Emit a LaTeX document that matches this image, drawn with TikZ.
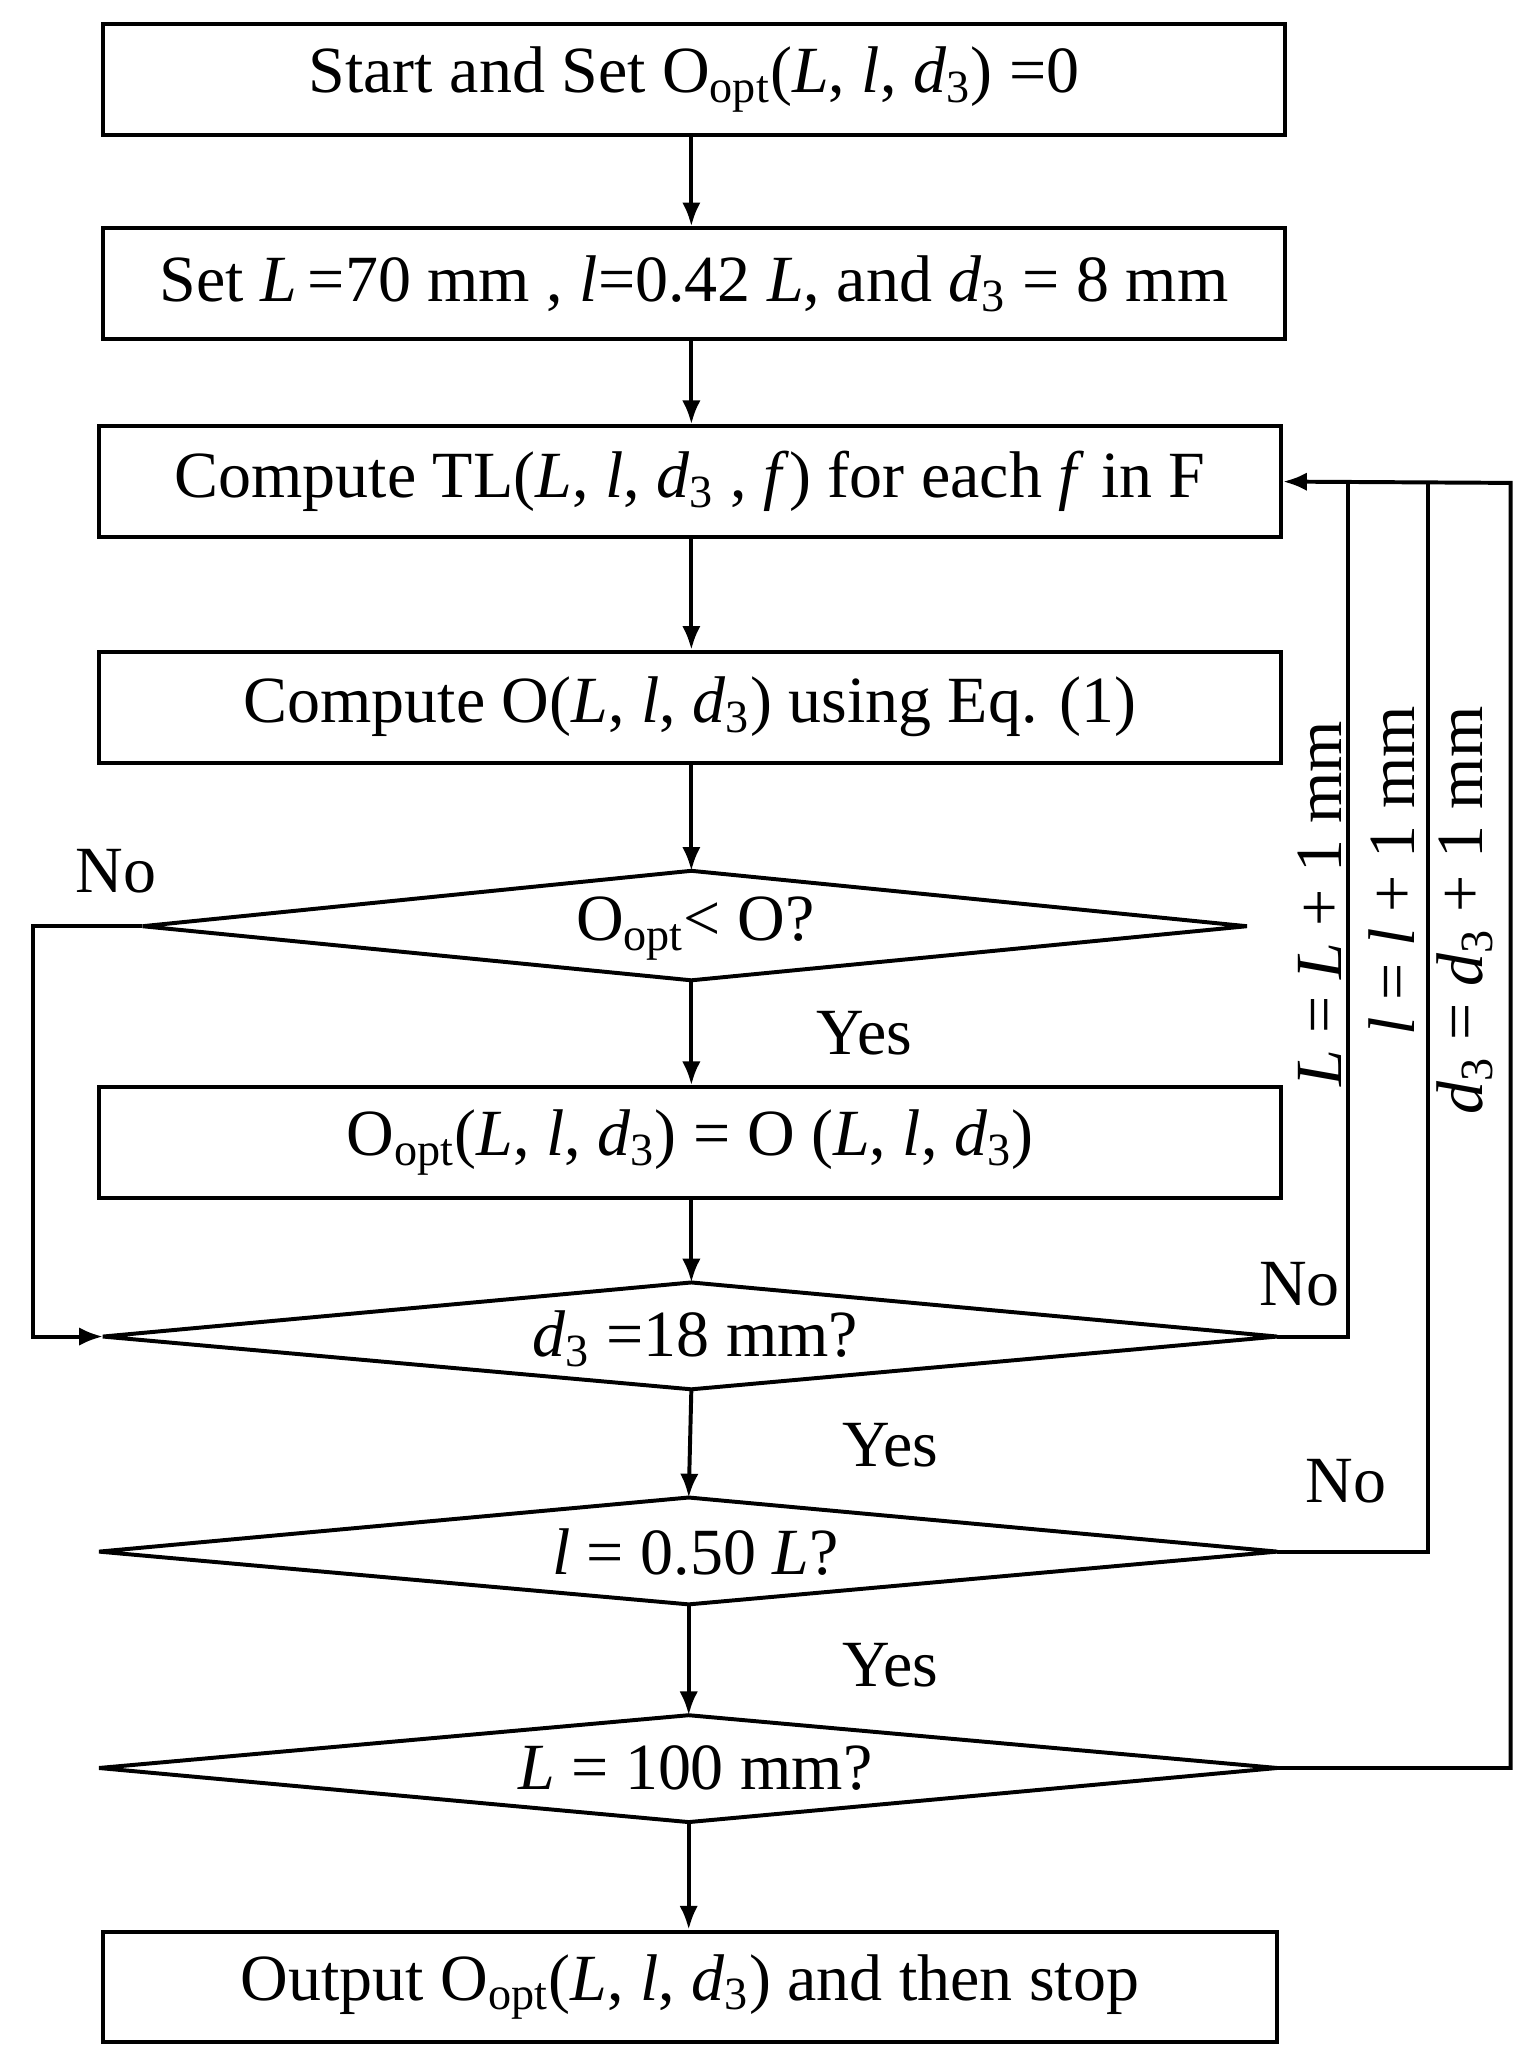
\documentclass[tikz,border=0pt]{standalone}
\usepackage{fontspec}
\setmainfont{Liberation Serif}
\usetikzlibrary{arrows.meta}
\begin{document}
\begin{tikzpicture}[x=0.5pt,y=-0.5pt,
  every node/.style={font=\fontsize{25}{28}\selectfont},
  ln/.style={line width=1.5pt},
  ar/.style={ln,-{Latex[length=9pt,width=7pt]}},
  box/.style={draw,line width=1.5pt,minimum height=42pt,inner sep=0pt}]
\useasboundingbox (0,0) rectangle (1158,1553);
\def\sub#1{$_{\mathrm{#1}}$}
\node[box,minimum width=448pt] (b1) at (526,60) {Start and Set O\sub{opt}(\textit{L}, \textit{l}, \textit{d}\sub{3}) =0};
\node[box,minimum width=448pt] (b2) at (526,215) {Set \textit{L}\,=70 mm , \textit{l}=0.42 \textit{L}, and \textit{d}\sub{3} = 8 mm};
\node[box,minimum width=448pt] (b3) at (523,365) {Compute TL(\textit{L}, \textit{l}, \textit{d}\sub{3} , \textit{f}) for each \textit{f} in F};
\node[box,minimum width=448pt] (b4) at (523,536) {Compute O(\textit{L}, \textit{l}, \textit{d}\sub{3}) using Eq. (1)};
\node[box,minimum width=448pt] (b5) at (523,866) {O\sub{opt}(\textit{L}, \textit{l}, \textit{d}\sub{3}) = O (\textit{L}, \textit{l}, \textit{d}\sub{3})};
\node[box,minimum width=445pt] (b6) at (523,1506) {Output O\sub{opt}(\textit{L}, \textit{l}, \textit{d}\sub{3}) and then stop};
% diamonds
\coordinate (d1l) at (108,702); \coordinate (d1r) at (945,702); \coordinate (d1t) at (524,660); \coordinate (d1b) at (524,743);
\coordinate (d2l) at (78,1013); \coordinate (d2r) at (968,1013); \coordinate (d2t) at (524,972); \coordinate (d2b) at (524,1053);
\coordinate (d3l) at (75,1176); \coordinate (d3r) at (968,1176); \coordinate (d3t) at (522,1135); \coordinate (d3b) at (522,1216);
\coordinate (d4l) at (75,1340); \coordinate (d4r) at (968,1340); \coordinate (d4t) at (522,1300); \coordinate (d4b) at (522,1381);
\draw[ln] (d1l)--(d1t)--(d1r)--(d1b)--cycle;
\draw[ln] (d2l)--(d2t)--(d2r)--(d2b)--cycle;
\draw[ln] (d3l)--(d3t)--(d3r)--(d3b)--cycle;
\draw[ln] (d4l)--(d4t)--(d4r)--(d4b)--cycle;
\node (t1) at (527,704) {O\sub{opt}< O?};
\node (t2) at (527,1015) {\textit{d}\sub{3} =18 mm?};
\node (t3) at (527,1176) {\textit{l} = 0.50 \textit{L}?};
\node (t4) at (527,1340) {\textit{L} = 100 mm?};
% main flow
\draw[ar] (b1.south -| 524,0) -- (b2.north -| 524,0);
\draw[ar] (b2.south -| 524,0) -- (b3.north -| 524,0);
\draw[ar] (b3.south -| 524,0) -- (b4.north -| 524,0);
\draw[ar] (b4.south -| 524,0) -- (d1t);
\draw[ar] (d1b) -- (b5.north -| 524,0);
\draw[ar] (b5.south -| 524,0) -- (d2t);
\draw[ar] (d2b) -- (d3t);
\draw[ar] (d3b) -- (d4t);
\draw[ar] (d4b) -- (b6.north -| 522,0);
% loops
\draw[ar] (d1l) -- (25,702) -- (25,1013) -- (d2l);
\draw[ln] (d2r) -- (1022,1013) -- (1022,366);
\draw[ln] (d3r) -- (1082,1176) -- (1082,366);
\draw[ar] (d4r) -- (1145,1340) -- (1145,366) -- (b3.east);
% labels
\node (n1) at (88,660) {No};
\node (y1) at (655,783) {Yes};
\node (n2) at (985,973) {No};
\node (y2) at (675,1095) {Yes};
\node (n3) at (1020,1123) {No};
\node (y3) at (675,1262) {Yes};
\node[rotate=90] (r1) at (1000,685) {\textit{L} = \textit{L} + 1 mm};
\node[rotate=90] (r2) at (1055,660) {\textit{l} = \textit{l} + 1 mm};
\node[rotate=90] (r3) at (1110,690) {\textit{d}\sub{3} = \textit{d}\sub{3} + 1 mm};
\end{tikzpicture}
\end{document}
